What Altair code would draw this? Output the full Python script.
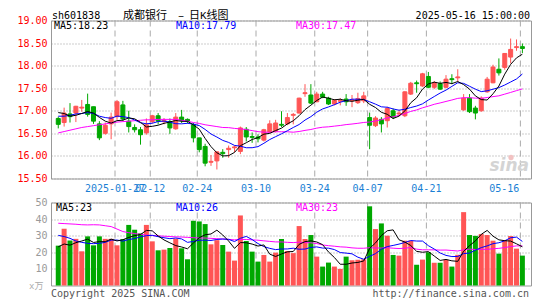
import altair as alt
import pandas as pd

# ---------------- data ----------------
dates = ["2025-01-13","2025-01-14","2025-01-15","2025-01-16","2025-01-17","2025-01-20","2025-01-21","2025-01-22","2025-01-23","2025-01-24","2025-01-27",
         "2025-02-05","2025-02-06","2025-02-07","2025-02-10","2025-02-11","2025-02-12","2025-02-13","2025-02-14","2025-02-17","2025-02-18","2025-02-19","2025-02-20","2025-02-21","2025-02-24","2025-02-25","2025-02-26","2025-02-27","2025-02-28",
         "2025-03-03","2025-03-04","2025-03-05","2025-03-06","2025-03-07","2025-03-10","2025-03-11","2025-03-12","2025-03-13","2025-03-14","2025-03-17","2025-03-18","2025-03-19","2025-03-20","2025-03-21","2025-03-24","2025-03-25","2025-03-26","2025-03-27","2025-03-28","2025-03-31",
         "2025-04-01","2025-04-02","2025-04-03","2025-04-07","2025-04-08","2025-04-09","2025-04-10","2025-04-11","2025-04-14","2025-04-15","2025-04-16","2025-04-17","2025-04-18","2025-04-21","2025-04-22","2025-04-23","2025-04-24","2025-04-25","2025-04-28","2025-04-29","2025-04-30",
         "2025-05-06","2025-05-07","2025-05-08","2025-05-09","2025-05-12","2025-05-13","2025-05-14","2025-05-15","2025-05-16"]

opens = [16.83,16.74,16.93,16.95,17.06,17.14,17.09,16.71,16.50,16.71,
         16.87,17.13,16.77,16.63,16.58,16.51,16.76,16.89,16.76,16.76,
         16.60,16.86,16.81,16.69,16.40,16.21,15.86,15.89,16.08,16.14,
         16.18,16.10,16.59,16.43,16.42,16.35,16.53,16.55,16.70,16.71,
         16.90,16.95,17.38,17.35,17.20,17.37,17.28,17.15,17.21,17.26,
         17.22,17.18,17.22,16.85,16.67,16.81,16.78,17.00,16.93,16.89,
         17.37,17.62,17.55,17.76,17.52,17.60,17.52,17.71,17.73,17.02,
         17.28,17.06,17.00,17.42,17.62,17.92,17.96,18.19,18.40,18.42]
highs = [16.87,17.07,17.17,17.11,17.24,17.38,17.09,16.77,16.74,16.96,
         17.24,17.22,17.00,16.70,16.64,16.83,16.91,16.95,16.84,16.83,
         16.95,17.02,16.83,16.73,16.40,16.27,16.02,16.10,16.15,16.23,
         16.23,16.65,16.64,16.52,16.48,16.60,16.79,16.80,16.99,16.95,
         16.95,17.29,17.59,17.59,17.42,17.42,17.31,17.26,17.28,17.37,
         17.35,17.40,17.42,16.96,16.88,16.86,17.09,17.05,17.02,17.43,
         17.64,17.67,17.84,17.86,17.66,17.65,17.79,17.81,17.92,17.37,
         17.37,17.11,17.32,17.75,18.02,18.16,18.28,18.60,18.58,18.49]
lows = [16.61,16.65,16.74,16.75,16.98,16.87,16.71,16.35,16.47,16.37,
        16.80,16.77,16.52,16.52,16.25,16.47,16.72,16.70,16.70,16.49,
        16.58,16.73,16.72,16.30,16.08,15.77,15.78,15.70,15.96,15.96,
        16.08,16.04,16.32,16.29,16.30,16.32,16.50,16.52,16.64,16.68,
        16.70,16.94,17.31,17.15,17.19,17.28,17.13,17.12,17.12,17.11,
        17.08,17.15,17.17,16.15,16.64,16.52,16.63,16.82,16.88,16.86,
        17.35,17.40,17.53,17.50,17.48,17.46,17.50,17.59,17.64,17.00,
        16.95,16.81,16.98,17.40,17.61,17.78,17.91,18.05,18.33,18.28]
closes = [16.70,16.95,16.87,17.10,17.08,16.92,16.77,16.40,16.68,16.86,
          17.20,16.82,16.65,16.58,16.47,16.69,16.89,16.77,16.79,16.62,
          16.86,16.79,16.77,16.40,16.14,15.84,15.88,16.09,16.05,16.17,
          16.20,16.62,16.42,16.41,16.38,16.58,16.71,16.73,16.68,16.85,
          16.92,17.28,17.40,17.17,17.37,17.30,17.15,17.23,17.23,17.20,
          17.24,17.27,17.33,16.68,16.84,16.71,17.05,16.86,16.95,17.42,
          17.61,17.60,17.82,17.52,17.62,17.48,17.70,17.69,17.75,17.28,
          16.98,16.95,17.28,17.70,17.97,17.84,18.27,18.36,18.42,18.38]
volumes = [24.0,34.2,27.1,28.1,20.6,29.6,24.2,29.6,28.1,28.1,
           24.2,27.9,36.5,33.6,31.4,36.5,26.6,21.2,21.6,22.6,
           28.2,22.4,15.8,39.0,38.6,37.0,24.8,27.3,24.4,20.4,
           15.0,42.2,26.8,20.4,14.4,18.4,14.4,19.8,28.0,20.8,
           19.5,35.8,28.0,30.4,17.4,11.4,13.8,11.4,10.0,17.4,
           15.2,15.5,15.8,47.7,34.0,37.4,30.0,18.4,18.0,27.0,
           27.0,12.5,15.6,20.0,13.7,13.7,15.5,11.4,18.5,44.2,
           30.4,29.9,31.0,30.4,27.0,19.2,27.4,29.8,22.2,18.0]

# moving-average values at the left edge (they need days before the window)
ma5_head = [16.96, 16.94, 16.88, 16.90]
ma10_head = [16.88, 16.88, 16.90, 16.93, 16.94, 16.96, 16.94, 16.88, 16.85]
ma30_head = [16.51, 16.54, 16.57, 16.60, 16.63, 16.65, 16.67, 16.69, 16.71, 16.73,
             16.75, 16.76, 16.77, 16.78, 16.79, 16.80, 16.80, 16.81, 16.81, 16.81,
             16.81, 16.79, 16.77, 16.74, 16.72, 16.69, 16.67, 16.65, 16.63]
vma5_head = [23.3, 25.0, 24.3, 25.8]
vma10_head = [30.2, 29.5, 28.4, 26.8, 26.0, 25.4, 25.2, 25.4, 26.0]
vma30_head = [37.5, 37.3, 37.1, 36.9, 36.6, 36.5, 36.6, 36.5, 36.0, 35.5,
              34.0, 32.5, 31.8, 31.3, 30.8, 30.4, 30.1, 29.9, 29.7, 29.5,
              29.3, 29.2, 29.0, 28.8, 28.6, 28.6, 28.4, 28.2, 28.0]

tick_dates = ["2025-01-27", "2025-02-12", "2025-02-24", "2025-03-10", "2025-03-24", "2025-04-07", "2025-04-21", "2025-05-16"]
tick_labels = ["2025-01-27", "02-12", "02-24", "03-10", "03-24", "04-07", "04-21", "05-16"]

price_ticks = [15.5, 16.0, 16.5, 17.0, 17.5, 18.0, 18.5, 19.0]
vol_ticks = [10, 20, 30, 40, 50]

# ---------------- build tables ----------------
def moving_avg(vals, n, head):
    out = []
    for k in range(len(vals)):
        if k < n - 1:
            out.append(head[k])
        else:
            out.append(sum(vals[k - n + 1:k + 1]) / n)
    return out

df = pd.DataFrame({
    "i": list(range(len(dates))), "date": dates,
    "open": opens, "high": highs, "low": lows, "close": closes, "vol": volumes,
})
df["dir"] = ["up" if c >= o else "down" for o, c in zip(opens, closes)]
df["ma5"] = moving_avg(closes, 5, ma5_head)
df["ma10"] = moving_avg(closes, 10, ma10_head)
df["ma30"] = moving_avg(closes, 30, ma30_head)
df["vma5"] = moving_avg(volumes, 5, vma5_head)
df["vma10"] = moving_avg(volumes, 10, vma10_head)
df["vma30"] = moving_avg(volumes, 30, vma30_head)

ticks = pd.DataFrame({"i": [dates.index(d) for d in tick_dates], "label": tick_labels})
one = pd.DataFrame({"k": [0]})

RED, GREEN = "#ff5555", "#00a800"
BLUE_LBL = "#1a7fd4"
MONO = "DejaVu Sans Mono"
CJK = "Liberation Mono, Noto Sans CJK SC"
W, HP, HV = 480, 158, 83

xs = alt.Scale(domain=[-0.383, 79.617], nice=False, zero=False)
X = alt.X("i:Q", scale=xs, axis=None)
cscale = alt.Scale(domain=["up", "down"], range=[RED, GREEN])
col = alt.Color("dir:N", scale=cscale, legend=None)
stk = alt.Stroke("dir:N", scale=cscale, legend=None)

pscale = alt.Scale(domain=[15.5, 19.0], nice=False, zero=False)
paxis = alt.Axis(values=price_ticks, format=".2f", labelColor="#ff0000", labelFont=MONO,
                 labelFontSize=10, ticks=False, domain=False, grid=True, gridColor="#9a9a9a",
                 gridDash=[1, 2], labelPadding=4, title=None)
def YP(f):
    return alt.Y(f + ":Q", scale=pscale, axis=paxis, title=None)

vscale = alt.Scale(domain=[0, 50], nice=False)
vaxis = alt.Axis(values=vol_ticks, labelColor="#999999", labelFont=MONO, labelFontSize=10,
                 ticks=False, domain=False, grid=True, gridColor="#9a9a9a", gridDash=[1, 2],
                 labelPadding=4, title=None)
def YV(f):
    return alt.Y(f + ":Q", scale=vscale, axis=vaxis, title=None)

def label(txt, x, y, color="#000", size=10, font=MONO, align="left", **kw):
    return alt.Chart(one).mark_text(text=txt, color=color, fontSize=size, font=font,
                                    align=align, baseline="alphabetic", **kw).encode(
        x=alt.value(x), y=alt.value(y))

base = alt.Chart(df)

# ---------------- price panel ----------------
vgrid_p = alt.Chart(ticks).mark_rule(color="#aaaaaa", strokeDash=[6, 4], strokeWidth=1, xOffset=-2).encode(x=X)
wicks = base.mark_rule(strokeWidth=1).encode(x=X, y=YP("low"), y2="high:Q", color=col)
bodies = base.mark_bar(size=4, strokeWidth=1).encode(x=X, y=YP("open"), y2="close:Q", color=col, stroke=stk)
ma5 = base.mark_line(color="#000000", strokeWidth=1).encode(x=X, y=YP("ma5"))
ma10 = base.mark_line(color="#0000ff", strokeWidth=1).encode(x=X, y=YP("ma10"))
ma30 = base.mark_line(color="#ff00ff", strokeWidth=1).encode(x=X, y=YP("ma30"))

date_lbl = alt.Chart(ticks.iloc[:-1]).mark_text(color=BLUE_LBL, font=MONO, fontSize=10, align="center",
                                                baseline="alphabetic", dx=-2).encode(
    x=X, y=alt.value(HP + 13.3), text="label:N")
date_last = alt.Chart(ticks.iloc[-1:]).mark_text(color=BLUE_LBL, font=MONO, fontSize=10, align="right",
                                                 baseline="alphabetic", dx=-3).encode(
    x=X, y=alt.value(HP + 13.3), text="label:N")

eye = alt.Chart(one).mark_point(shape="circle", filled=True, size=28, color="#f2c2c2", opacity=1).encode(
    x=alt.value(460), y=alt.value(137))

price = alt.layer(
    vgrid_p, wicks, bodies, ma30, ma10, ma5, eye,
    label("MA5:18.23", 3, 8.5),
    label("MA10:17.79", 125, 8.5, color="#0000ff"),
    label("MA30:17.47", 245, 8.5, color="#ff00ff"),
    label("sh601838", 1, -2),
    label("成都银行", 72, -2, size=11, font=CJK),
    label("–", 130, -2, size=11, font=CJK, align="center"),
    label("日K线图", 138, -2, size=11, font=CJK),
    label("2025-05-16 15:00:00", 479, -2, align="right"),
    label("sina", 478, 150, color="#d4d4d4", size=17, font="DejaVu Sans", align="right",
          fontStyle="italic", fontWeight="bold"),
    date_lbl, date_last,
).properties(width=W, height=HP)

# ---------------- volume panel ----------------
vgrid_v = alt.Chart(ticks).mark_rule(color="#aaaaaa", strokeDash=[6, 4], strokeWidth=1, xOffset=-2).encode(x=X)
vbars = base.mark_bar(size=5).encode(x=X, y=YV("vol"), color=col)
vm5 = base.mark_line(color="#000000", strokeWidth=1).encode(x=X, y=YV("vma5"))
vm10 = base.mark_line(color="#0000ff", strokeWidth=1).encode(x=X, y=YV("vma10"))
vm30 = base.mark_line(color="#ff00ff", strokeWidth=1).encode(x=X, y=YV("vma30"))

volume = alt.layer(
    vgrid_v, vbars, vm30, vm10, vm5,
    label("MA5:23", 5, 8.2),
    label("MA10:26", 125, 8.2, color="#0000ff"),
    label("MA30:23", 245, 8.2, color="#ff00ff"),
    label("x万", -22, HV + 3.5, color="#aaaaaa", size=9, font=CJK),
    label("Copyright 2025 SINA.COM", 0, HV + 11, color="#555555"),
    label("http://finance.sina.com.cn", 478, HV + 11, color="#555555", align="right"),
).properties(width=W, height=HV)

chart = alt.vconcat(price, volume, spacing=24, bounds="flush").properties(
    padding={"left": 8, "top": 0.5, "right": 2, "bottom": 0}
).configure_view(stroke="#999999", strokeWidth=1)

chart.save("out.html", embed_options={"renderer": "svg", "actions": False})
